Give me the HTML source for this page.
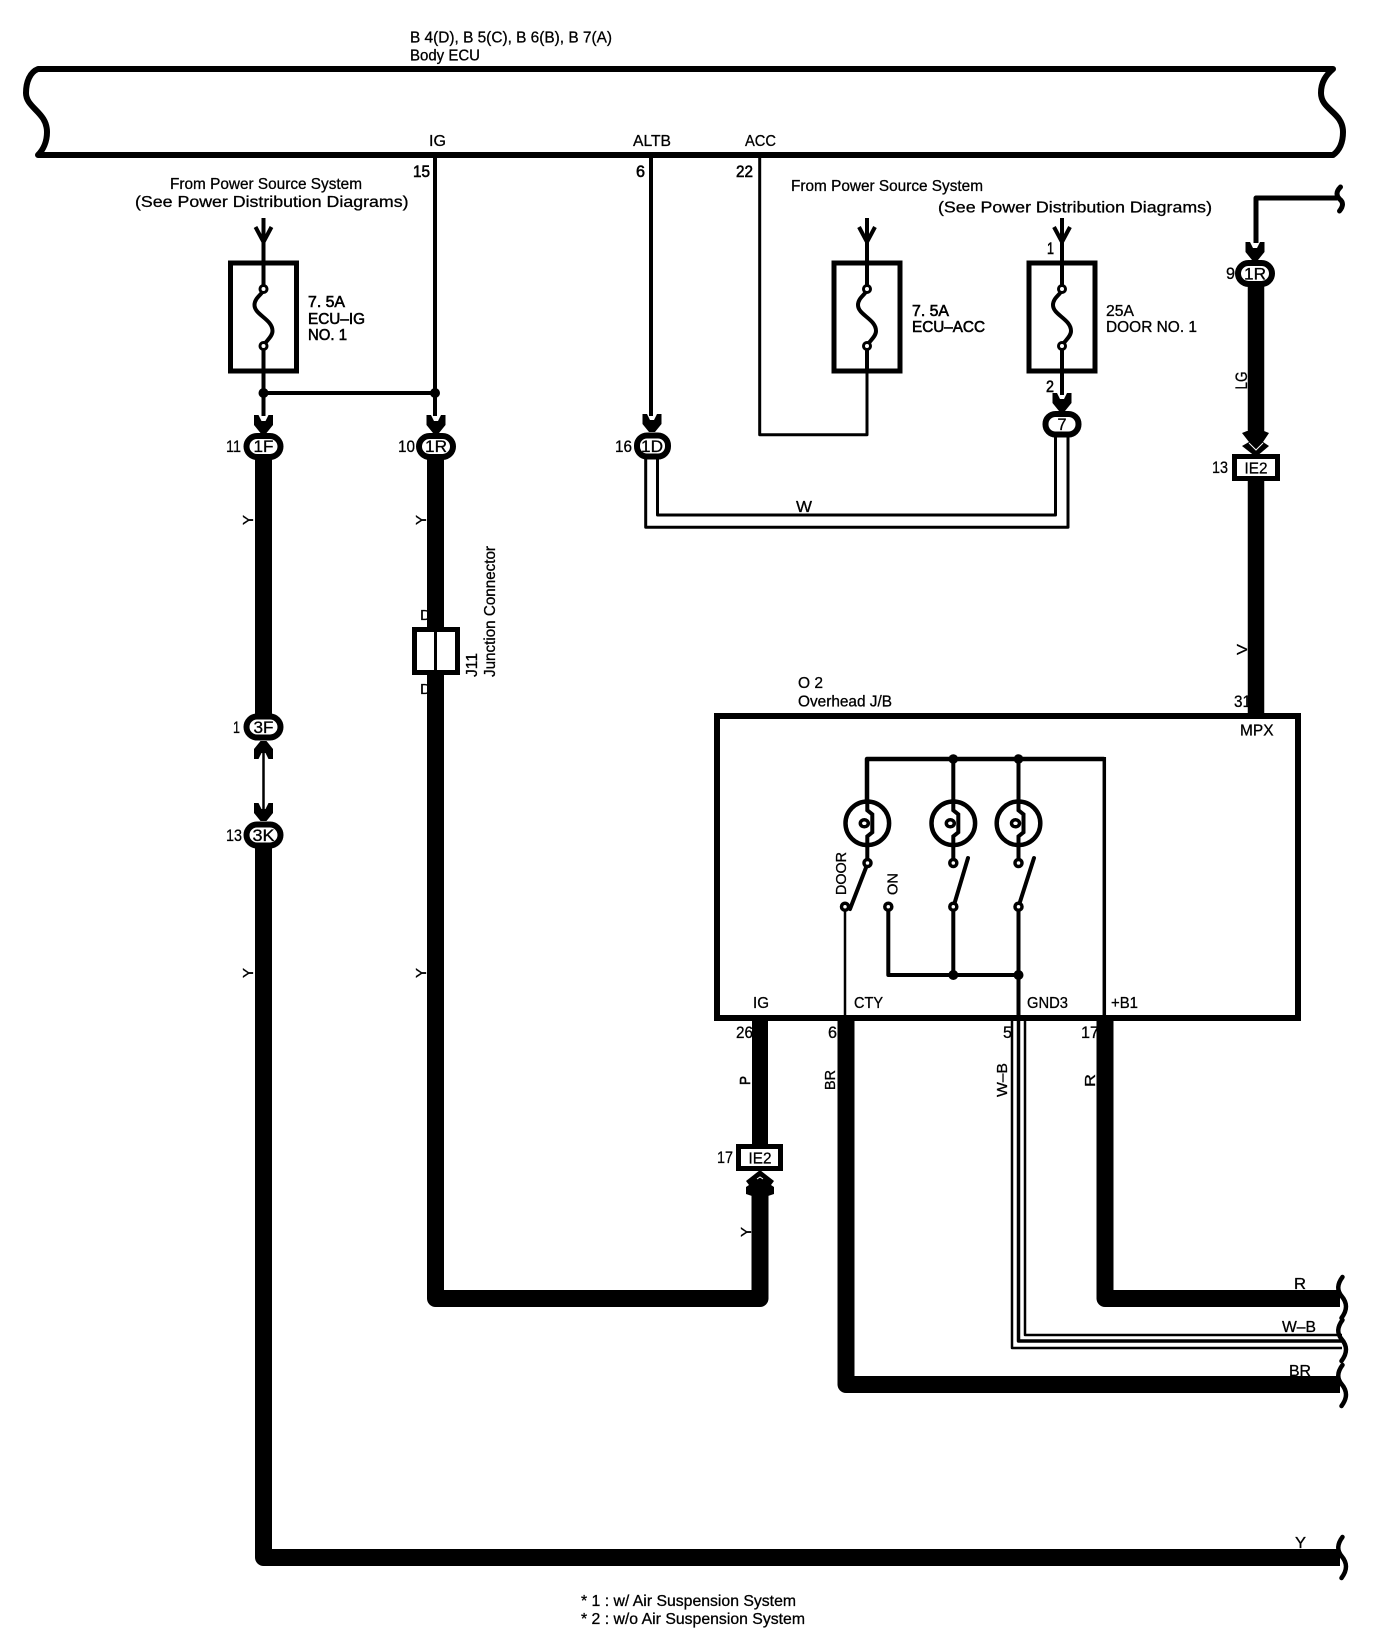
<!DOCTYPE html>
<html lang="en">
<head>
<meta charset="utf-8">
<title>Body ECU wiring diagram</title>
<style>
html,body{margin:0;padding:0;background:#fff;width:1392px;height:1650px;overflow:hidden}
svg{display:block}
text{font-family:"Liberation Sans",sans-serif;font-size:16px;fill:#000;stroke:#000;stroke-width:.3}
.b{stroke-width:.6}
.n{font-size:17px}
.s{font-size:15px}
.w{fill:none;stroke:#000;stroke-linejoin:round}
.c{font-size:16.5px;text-anchor:middle;stroke-width:.3}
</style>
</head>
<body>
<svg xmlns="http://www.w3.org/2000/svg" width="1392" height="1650" viewBox="0 0 1392 1650">
<defs>
<path id="chev" d="M-9.5 0 L-5 0 L-2 6 H2 L5 0 H9.5 V10 L3 18 H-3 L-9.5 10 Z" fill="#000"/>
<path id="sq" d="M1342.5 0 C1336.5 8,1337.5 14,1341.5 19 C1347.5 26,1347.5 33,1341.5 41" fill="none" stroke="#000" stroke-width="4.5" stroke-linecap="round"/>
<g id="fuse">
<path d="M-8 -36 L0 -21 L8 -36" fill="none" stroke="#000" stroke-width="4"/>
<rect x="-33" y="0" width="66" height="108" fill="#fff" stroke="#000" stroke-width="5"/>
<path d="M0 -45 V28 M0 82 V108" stroke="#000" stroke-width="4" fill="none"/>
<path d="M0 27 C-2 32,-9 35,-9 42 C-9 52,9 56,9 68 C9 74,2 78,0 83" fill="none" stroke="#000" stroke-width="4"/>
<circle cx="0" cy="26" r="3.5" fill="#fff" stroke="#000" stroke-width="3"/>
<circle cx="0" cy="83" r="3.5" fill="#fff" stroke="#000" stroke-width="3"/>
</g>
<g id="lamp">
<circle cx="0" cy="0" r="21.8" fill="#fff" stroke="#000" stroke-width="4.5"/>
<path d="M0 -23 V-13 L5 -9 V9 L0 13 V24" fill="none" stroke="#000" stroke-width="4"/>
<ellipse cx="-3" cy="0" rx="4" ry="3.5" fill="#fff" stroke="#000" stroke-width="3.5"/>
<path d="M0 22 V40" stroke="#000" stroke-width="4"/>
</g>
</defs>

<!-- Body ECU -->
<text x="410" y="42.7" textLength="202" lengthAdjust="spacingAndGlyphs">B 4(D), B 5(C), B 6(B), B 7(A)</text>
<text x="410" y="60.7" textLength="70" lengthAdjust="spacingAndGlyphs">Body ECU</text>
<path class="w" stroke-width="6" d="M38 69 C30 72,26 82,26 93 C26 108,47 112,47 132 C47 142,43 150,38 155 H1333 C1340 150,1343 142,1343 132 C1343 112,1321 110,1321 93 C1321 82,1326 75,1333 69 Z"/>
<text x="429" y="146" textLength="17" lengthAdjust="spacingAndGlyphs">IG</text>
<text x="633" y="146" textLength="38" lengthAdjust="spacingAndGlyphs">ALTB</text>
<text x="745" y="146" textLength="31" lengthAdjust="spacingAndGlyphs">ACC</text>
<text class="b n" x="413" y="177" textLength="17" lengthAdjust="spacingAndGlyphs">15</text>
<text class="b n" x="636" y="177" textLength="9" lengthAdjust="spacingAndGlyphs">6</text>
<text class="b n" x="736" y="177" textLength="17" lengthAdjust="spacingAndGlyphs">22</text>

<!-- power source texts -->
<text x="170" y="189" textLength="192" lengthAdjust="spacingAndGlyphs">From Power Source System</text>
<text x="135" y="207" textLength="273.5" lengthAdjust="spacingAndGlyphs">(See Power Distribution Diagrams)</text>
<text x="791" y="191" textLength="192" lengthAdjust="spacingAndGlyphs">From Power Source System</text>
<text x="938" y="212.5" textLength="274" lengthAdjust="spacingAndGlyphs">(See Power Distribution Diagrams)</text>

<!-- fuses -->
<use href="#fuse" x="263.5" y="263"/>
<use href="#fuse" x="867" y="263"/>
<use href="#fuse" x="1062" y="263"/>
<text class="b" x="308" y="307" textLength="37" lengthAdjust="spacingAndGlyphs">7. 5A</text>
<text class="b" x="308" y="324" textLength="57" lengthAdjust="spacingAndGlyphs">ECU–IG</text>
<text class="b" x="308" y="340" textLength="39" lengthAdjust="spacingAndGlyphs">NO. 1</text>
<text class="b" x="912" y="316" textLength="37" lengthAdjust="spacingAndGlyphs">7. 5A</text>
<text class="b" x="912" y="332" textLength="73" lengthAdjust="spacingAndGlyphs">ECU–ACC</text>
<text x="1106" y="316" textLength="28" lengthAdjust="spacingAndGlyphs">25A</text>
<text x="1106" y="332" textLength="91" lengthAdjust="spacingAndGlyphs">DOOR NO. 1</text>
<text class="b n" x="1047" y="254" textLength="7" lengthAdjust="spacingAndGlyphs">1</text>
<text class="b n" x="1046" y="392" textLength="8" lengthAdjust="spacingAndGlyphs">2</text>

<!-- thin wires upper -->
<path class="w" stroke-width="4" d="M263.5 371 V416"/>
<path class="w" stroke-width="4" d="M263.5 393 H435"/>
<path class="w" stroke-width="4" d="M435 155 V416"/>
<circle cx="263.5" cy="393" r="5"/>
<circle cx="435" cy="393" r="5"/>
<path class="w" stroke-width="4" d="M651 155 V416"/>
<path class="w" stroke-width="3" d="M759.7 155 V434.7 H867 V371"/>
<path class="w" stroke-width="4" d="M1062 371 V395"/>
<path class="w" stroke-width="3" d="M657.5 459 V515 H1055.5 V436"/>
<path class="w" stroke-width="3" d="M645.7 459 V527.3 H1068 V436"/>
<text x="796" y="512" textLength="16" lengthAdjust="spacingAndGlyphs">W</text>

<!-- top-right wire -->
<path class="w" stroke-width="5" d="M1256 243 V198 H1337" stroke-linejoin="miter"/>
<path d="M1340.5 187 C1335.5 192,1336.5 196,1339.5 199 C1343.5 202,1343.5 206,1339.5 211" fill="none" stroke="#000" stroke-width="5" stroke-linecap="round"/>

<!-- labels behind thick wires -->
<text class="s" transform="translate(253,525) rotate(-90)" textLength="10" lengthAdjust="spacingAndGlyphs">Y</text>
<text class="s" transform="translate(426,525) rotate(-90)" textLength="10" lengthAdjust="spacingAndGlyphs">Y</text>
<text class="s" transform="translate(253,978) rotate(-90)" textLength="10" lengthAdjust="spacingAndGlyphs">Y</text>
<text class="s" transform="translate(426,978) rotate(-90)" textLength="10" lengthAdjust="spacingAndGlyphs">Y</text>
<text class="s" transform="translate(751,1237) rotate(-90)" textLength="10" lengthAdjust="spacingAndGlyphs">Y</text>
<text class="s" x="420" y="620" textLength="11" lengthAdjust="spacingAndGlyphs">D</text>
<text class="s" x="420" y="694" textLength="11" lengthAdjust="spacingAndGlyphs">D</text>
<text class="n" transform="translate(1247,389.5) rotate(-90)" textLength="18" lengthAdjust="spacingAndGlyphs">LG</text>
<text class="s" transform="translate(1247,655) rotate(-90)" textLength="11" lengthAdjust="spacingAndGlyphs">V</text>
<text class="n" x="1234" y="707" textLength="17" lengthAdjust="spacingAndGlyphs">31</text>
<text class="n" x="736" y="1038" textLength="17" lengthAdjust="spacingAndGlyphs">26</text>
<text class="n" x="828" y="1038" textLength="9" lengthAdjust="spacingAndGlyphs">6</text>
<text class="n" x="1003" y="1038" textLength="9" lengthAdjust="spacingAndGlyphs">5</text>
<text class="n" x="1081" y="1038" textLength="18" lengthAdjust="spacingAndGlyphs">17</text>
<text class="b s" transform="translate(750,1085) rotate(-90)" textLength="9" lengthAdjust="spacingAndGlyphs">P</text>
<text class="s" transform="translate(835,1090) rotate(-90)" textLength="20" lengthAdjust="spacingAndGlyphs">BR</text>
<text class="s" transform="translate(1007,1097) rotate(-90)" textLength="34" lengthAdjust="spacingAndGlyphs">W–B</text>
<text class="s" transform="translate(1095,1087) rotate(-90)" textLength="13" lengthAdjust="spacingAndGlyphs">R</text>

<!-- thick wires -->
<path class="w" stroke-width="17" d="M263.5 455 V735"/>
<path class="w" stroke-width="17" d="M263.5 840 V1557.5 H1340"/>
<path class="w" stroke-width="17" d="M435.5 455 V1298.5 H760 V1190"/>
<path class="w" stroke-width="16.5" d="M1256 283 V433"/>
<path class="w" stroke-width="16.5" d="M1256 478 V718"/>
<path class="w" stroke-width="16" d="M760 1018 V1146"/>
<path class="w" stroke-width="17" d="M846 1018 V1384.5 H1340"/>
<path class="w" stroke-width="17" d="M1105 1018 V1298.5 H1340"/>
<path class="w" stroke-width="2.5" d="M1025 1020 V1335 H1342"/>
<path class="w" stroke-width="3.5" d="M1018.5 1020 V1341 H1342"/>
<path class="w" stroke-width="2.5" d="M1012 1020 V1348 H1342"/>

<!-- end squiggles -->
<use href="#sq" x="0" y="1277"/>
<use href="#sq" x="0" y="1320"/>
<use href="#sq" x="0" y="1365"/>
<use href="#sq" x="0" y="1537"/>
<text x="1294" y="1289" textLength="12" lengthAdjust="spacingAndGlyphs">R</text>
<text x="1282" y="1332" textLength="34" lengthAdjust="spacingAndGlyphs">W–B</text>
<text x="1289" y="1376" textLength="22" lengthAdjust="spacingAndGlyphs">BR</text>
<text x="1295" y="1548" textLength="11" lengthAdjust="spacingAndGlyphs">Y</text>

<!-- chevrons -->
<use href="#chev" x="263.5" y="415"/>
<use href="#chev" x="436" y="415"/>
<use href="#chev" x="652" y="414"/>
<use href="#chev" x="1062" y="393"/>
<use href="#chev" x="1255" y="242"/>
<use href="#chev" x="263.5" y="803"/>
<g transform="translate(263.5,759) scale(1,-1)"><use href="#chev"/></g>
<path class="w" stroke-width="2.5" d="M263.5 750 V812"/>

<!-- connectors -->
<g fill="#fff" stroke="#000" stroke-width="6">
<rect x="246.5" y="436" width="34" height="21" rx="10.5"/>
<rect x="419" y="436" width="34" height="21" rx="10.5"/>
<rect x="637" y="435.5" width="31" height="21" rx="10"/>
<rect x="246.5" y="716.5" width="34" height="21" rx="10.5"/>
<rect x="246.5" y="824.5" width="34" height="21" rx="10.5"/>
<rect x="1238" y="263" width="34" height="21" rx="10.5"/>
<rect x="1045.5" y="414" width="33" height="20.5" rx="10"/>
</g>
<text class="c" x="263.5" y="452" textLength="20" lengthAdjust="spacingAndGlyphs">1F</text>
<text class="c" x="436" y="452" textLength="22" lengthAdjust="spacingAndGlyphs">1R</text>
<text class="c" x="652" y="452" textLength="22" lengthAdjust="spacingAndGlyphs">1D</text>
<text class="c" x="263.5" y="733" textLength="20" lengthAdjust="spacingAndGlyphs">3F</text>
<text class="c" x="263.5" y="841" textLength="22" lengthAdjust="spacingAndGlyphs">3K</text>
<text class="c" x="1255" y="279.5" textLength="22" lengthAdjust="spacingAndGlyphs">1R</text>
<text class="c" x="1062" y="430">7</text>
<text class="n" x="226" y="452" textLength="15" lengthAdjust="spacingAndGlyphs">11</text>
<text class="n" x="398" y="452" textLength="17" lengthAdjust="spacingAndGlyphs">10</text>
<text class="n" x="615" y="452" textLength="17" lengthAdjust="spacingAndGlyphs">16</text>
<text class="n" x="233" y="733" textLength="7" lengthAdjust="spacingAndGlyphs">1</text>
<text class="n" x="226" y="841" textLength="16" lengthAdjust="spacingAndGlyphs">13</text>
<text class="n" x="1226" y="279" textLength="9" lengthAdjust="spacingAndGlyphs">9</text>

<!-- IE2 connectors -->
<polygon points="1247,431 1242,433 1249,442 1242,446 1256,457 1269,446 1263,442 1269,433 1264,431"/>
<path d="M1249 443 L1256 450 L1263 443" fill="none" stroke="#fff" stroke-width="1"/>
<rect x="1234.5" y="456.5" width="43" height="22" fill="#fff" stroke="#000" stroke-width="5"/>
<text x="1256" y="473.5" text-anchor="middle" textLength="23" lengthAdjust="spacingAndGlyphs">IE2</text>
<text class="n" x="1212" y="473" textLength="16" lengthAdjust="spacingAndGlyphs">13</text>
<polygon points="760,1170 746,1181 749,1185 746,1187 746,1194 752,1196 768,1196 774,1194 774,1187 771,1185 774,1181"/>
<path d="M757 1179 L760 1177 L763 1179" fill="none" stroke="#fff" stroke-width="1"/>
<rect x="738.5" y="1146.5" width="42" height="22" fill="#fff" stroke="#000" stroke-width="5"/>
<text x="760" y="1163.5" text-anchor="middle" textLength="23" lengthAdjust="spacingAndGlyphs">IE2</text>
<text class="n" x="717" y="1163" textLength="16" lengthAdjust="spacingAndGlyphs">17</text>

<!-- J11 -->
<rect x="414.5" y="629.5" width="43" height="43" fill="#fff" stroke="#000" stroke-width="5"/>
<path d="M435.5 629 V673" stroke="#000" stroke-width="3"/>
<text transform="translate(477,677) rotate(-90)" textLength="24" lengthAdjust="spacingAndGlyphs">J11</text>
<text transform="translate(495,677) rotate(-90)" textLength="131" lengthAdjust="spacingAndGlyphs">Junction Connector</text>

<!-- Overhead J/B -->
<text x="798" y="688" textLength="25" lengthAdjust="spacingAndGlyphs">O 2</text>
<text x="798" y="706.7" textLength="94" lengthAdjust="spacingAndGlyphs">Overhead J/B</text>
<rect x="717" y="716" width="581" height="302" fill="none" stroke="#000" stroke-width="6"/>
<text x="1240" y="735.7" textLength="33.5" lengthAdjust="spacingAndGlyphs">MPX</text>
<text x="753" y="1008" textLength="16" lengthAdjust="spacingAndGlyphs">IG</text>
<text x="854" y="1008" textLength="29" lengthAdjust="spacingAndGlyphs">CTY</text>
<text x="1027" y="1008" textLength="41" lengthAdjust="spacingAndGlyphs">GND3</text>
<text x="1111" y="1008" textLength="27" lengthAdjust="spacingAndGlyphs">+B1</text>
<text class="s" transform="translate(846,895) rotate(-90)" textLength="43" lengthAdjust="spacingAndGlyphs">DOOR</text>
<text class="s" transform="translate(897.7,895) rotate(-90)" textLength="22" lengthAdjust="spacingAndGlyphs">ON</text>

<path class="w" stroke-width="4.5" d="M867 800 V759 H1104.3" stroke-linejoin="miter"/>
<path class="w" stroke-width="3.5" d="M1104.3 757 V1018"/>
<path class="w" stroke-width="4" d="M953.3 759 V800 M1018.5 759 V800"/>
<circle cx="953.3" cy="759" r="4.8"/>
<circle cx="1018.5" cy="759" r="4.8"/>
<use href="#lamp" x="867.3" y="823.3"/>
<use href="#lamp" x="953.3" y="823.3"/>
<use href="#lamp" x="1018.5" y="823.3"/>
<path class="w" stroke-width="2.5" d="M845 906 V1016"/>
<path class="w" stroke-width="4" d="M888.3 906.7 V975 H1018.5"/>
<path class="w" stroke-width="4" d="M953.3 906.7 V975 M1018.5 906.7 V1018"/>
<circle cx="953.3" cy="975" r="5"/>
<circle cx="1018.5" cy="975" r="5"/>
<path class="w" stroke-width="4" stroke-linecap="round" d="M850 909 L867 865 M954 905 L968 858 M1019 905 L1034 858"/>
<g fill="#fff" stroke="#000" stroke-width="3.5">
<circle cx="867.5" cy="863" r="3.5"/>
<circle cx="953.3" cy="863" r="3.5"/>
<circle cx="1018.5" cy="863" r="3.5"/>
<circle cx="845" cy="906.7" r="3.5"/>
<circle cx="888.3" cy="906.7" r="3.5"/>
<circle cx="953.3" cy="906.7" r="3.5"/>
<circle cx="1018.5" cy="906.7" r="3.5"/>
</g>

<!-- footnotes -->
<text x="581" y="1606" textLength="215" lengthAdjust="spacingAndGlyphs">* 1 : w/ Air Suspension System</text>
<text x="581" y="1624" textLength="224" lengthAdjust="spacingAndGlyphs">* 2 : w/o Air Suspension System</text>
</svg>
</body>
</html>
